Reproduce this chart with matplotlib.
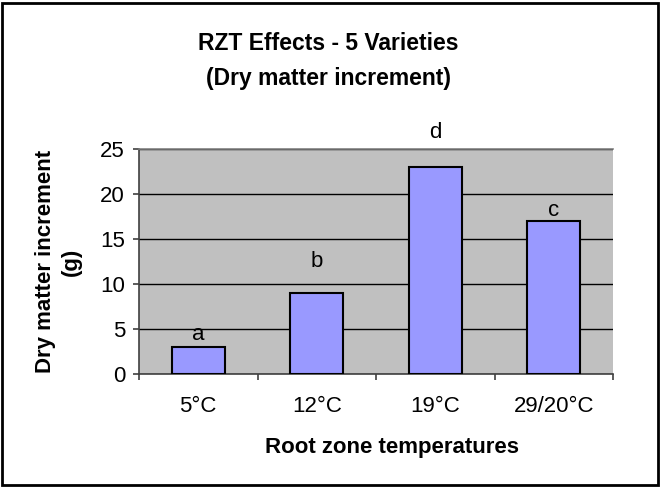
import matplotlib
matplotlib.use("Agg")
import matplotlib.pyplot as plt
from matplotlib.patches import Rectangle

categories = ["5°C", "12°C", "19°C", "29/20°C"]
values = [3, 9, 23, 17]
letters = ["a", "b", "d", "c"]
letter_y = [3.8, 11.9, 26.2, 17.6]
yticks = [0, 5, 10, 15, 20, 25]

plt.rcParams['font.family'] = ['Liberation Sans', 'DejaVu Sans']

fig = plt.figure(figsize=(6.61, 4.87), dpi=100)
W, H = 661, 487
ax = fig.add_axes([139 / W, 1 - 374 / H, (613 - 139) / W, (374 - 149) / H])
ax.set_facecolor("#C0C0C0")

x = list(range(len(categories)))
ax.bar(x, values, width=0.45, color="#9999FF", edgecolor="black", linewidth=1.5, zorder=3)
for xi, ly, l in zip(x, letter_y, letters):
    ax.text(xi, ly, l, ha="center", va="baseline", fontsize=16, zorder=4, clip_on=False)

ax.set_xlim(-0.5, len(categories) - 0.5)
ax.set_ylim(0, 25)
ax.set_yticks(yticks)
ax.set_yticklabels([str(t) for t in yticks], fontsize=16)
ax.set_xticks(x)
ax.set_xticklabels(categories, fontsize=16)
ax.set_xticks([i - 0.5 for i in range(len(categories) + 1)], minor=True)
ax.tick_params(axis="x", which="major", length=0, pad=16)
ax.tick_params(axis="x", which="minor", length=4, width=1.2, direction="out", color="#404040")
ax.tick_params(axis="y", length=4, width=1.2, direction="out", color="#404040", pad=6)
ax.yaxis.grid(True, color="black", linewidth=1, zorder=1)
ax.set_axisbelow(True)
ax.spines["right"].set_visible(False)
ax.spines["top"].set_color("#808080")
ax.spines["left"].set_color("#404040")
ax.spines["bottom"].set_color("#404040")
for s in ["left", "bottom", "top"]:
    ax.spines[s].set_linewidth(1.2)

ax.set_ylabel("Dry matter increment\n(g)", fontsize=16, fontweight="bold",
              linespacing=1.3, va="center", ha="center")
ax.yaxis.set_label_coords((58 - 139) / 474, 0.5)
ax.set_xlabel("Root zone temperatures", fontsize=16, fontweight="bold", va="baseline")
ax.xaxis.set_label_coords((392 - 139) / 474, (374 - 453) / 225)

fig.text(0.497, 1 - 50 / H, "RZT Effects - 5 Varieties", ha="center", va="baseline",
         fontsize=16.5, fontweight="bold")
fig.text(0.497, 1 - 85 / H, "(Dry matter increment)", ha="center", va="baseline",
         fontsize=16.5, fontweight="bold")

fig.patches.append(Rectangle((2 / W, 2 / H), 656 / W, 482 / H, transform=fig.transFigure,
                             fill=False, edgecolor="black", linewidth=2))

fig.savefig("out.png", dpi=100)
